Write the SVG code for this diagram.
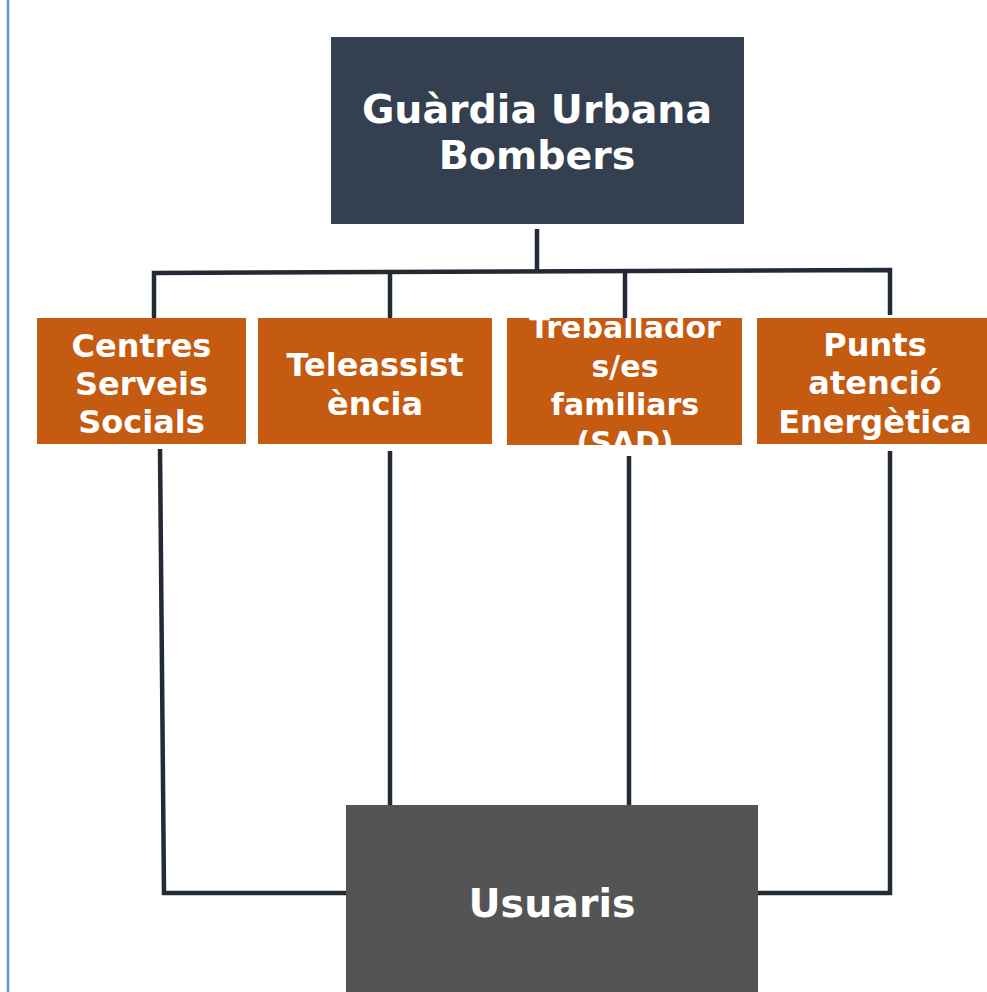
<svg xmlns="http://www.w3.org/2000/svg" width="987" height="992" viewBox="0 0 987 992">
<defs>
<style>
.lbl{font-family:"DejaVu Sans","Liberation Sans",sans-serif;font-weight:bold;fill:#ffffff;text-anchor:middle}
.conn{stroke:#222a35;stroke-width:4.5;fill:none}
.org{fill:#c55a11}
</style>
<clipPath id="c3"><rect x="507" y="318" width="235" height="127"/></clipPath>
</defs>
<rect width="987" height="992" fill="#ffffff"/>
<line x1="8" y1="0" x2="8" y2="992" stroke="#5b9bd5" stroke-width="2.5"/>
<g id="connectors">
<line class="conn" x1="537" y1="229" x2="537" y2="271"/>
<polyline class="conn" points="154,318 154,273 890,270 890,315"/>
<line class="conn" x1="390" y1="273" x2="390" y2="318"/>
<line class="conn" x1="625" y1="271" x2="625" y2="318"/>
<polyline class="conn" points="160,449 164,893 346,893"/>
<line class="conn" x1="390" y1="451" x2="390" y2="805"/>
<line class="conn" x1="629" y1="456" x2="629" y2="809"/>
<polyline class="conn" points="890,451 890,893 758,893"/>
</g>
<g id="n-top">
<rect x="331" y="37" width="413" height="187" fill="#343f4f"/>
<text class="lbl" x="537" y="123" font-size="39.5">Guàrdia Urbana</text>
<text class="lbl" x="537" y="169" font-size="39.5">Bombers</text>
</g>
<g id="n-centres">
<rect class="org" x="37" y="318" width="209" height="126"/>
<text class="lbl" x="141.5" y="357" font-size="32">Centres</text>
<text class="lbl" x="141.5" y="395" font-size="32">Serveis</text>
<text class="lbl" x="141.5" y="433" font-size="32">Socials</text>
</g>
<g id="n-tele">
<rect class="org" x="258" y="318" width="234" height="126"/>
<text class="lbl" x="375" y="376" font-size="32">Teleassist</text>
<text class="lbl" x="375" y="415" font-size="32">ència</text>
</g>
<g id="n-treb">
<rect class="org" x="507" y="318" width="235" height="127"/>
<g clip-path="url(#c3)">
<text class="lbl" x="625" y="338" font-size="30">Treballador</text>
<text class="lbl" x="625" y="377" font-size="30">s/es</text>
<text class="lbl" x="625" y="415" font-size="30">familiars</text>
<text class="lbl" x="625" y="453" font-size="30">(SAD)</text>
</g>
</g>
<g id="n-punts">
<rect class="org" x="757" y="318" width="230" height="126"/>
<text class="lbl" x="875" y="356" font-size="32">Punts</text>
<text class="lbl" x="875" y="394" font-size="32">atenció</text>
<text class="lbl" x="875" y="433" font-size="32">Energètica</text>
</g>
<g id="n-usuaris">
<rect x="346" y="805" width="412" height="187" fill="#545454"/>
<text class="lbl" x="552" y="917" font-size="39.5">Usuaris</text>
</g>
</svg>
